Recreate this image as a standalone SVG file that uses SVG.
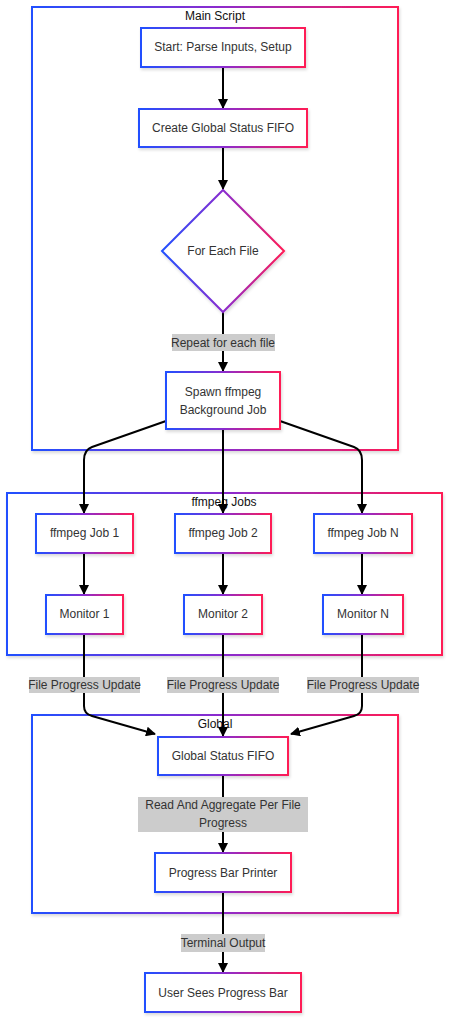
<svg xmlns="http://www.w3.org/2000/svg" width="451" height="1024" viewBox="0 0 451 1024">
<defs>
<linearGradient id="grad" x1="0" y1="0" x2="1" y2="0">
<stop offset="0" stop-color="#2050ff"/>
<stop offset="0.5" stop-color="#8a2ccf"/>
<stop offset="1" stop-color="#ff1a55"/>
</linearGradient>
<filter id="shadow" x="-10%" y="-10%" width="120%" height="130%">
<feDropShadow dx="1" dy="2" stdDeviation="1.5" flood-color="#000" flood-opacity="0.15"/>
</filter>
<marker id="arrow" viewBox="0 0 10 10" refX="9" refY="5" markerWidth="10" markerHeight="10" markerUnits="userSpaceOnUse" orient="auto">
<path d="M0,0 L10,5 L0,10 z" fill="#000"/>
</marker>
<style>
.node { fill: #fff; stroke: url(#grad); stroke-width: 2; filter: url(#shadow); }
.cluster { fill: #fff; stroke: url(#grad); stroke-width: 2; filter: url(#shadow); }
.ntext { font-family: "Liberation Sans", Arial, sans-serif; font-size: 12px; fill: #333; text-anchor: middle; }
.ctitle { font-family: "Liberation Sans", Arial, sans-serif; font-size: 12px; fill: #111; text-anchor: middle; }
.edge { fill: none; stroke: #000; stroke-width: 2; marker-end: url(#arrow); }
.lbg { fill: #cccccc; }
.ltext { font-family: "Liberation Sans", Arial, sans-serif; font-size: 12px; fill: #333; text-anchor: middle; }
</style>
</defs>
<rect width="451" height="1024" fill="#fff"/>

<g id="cluster-main">
<rect class="cluster" x="32" y="7" width="366" height="443"/>
<text class="ctitle" x="215" y="20">Main Script</text>
</g>
<g id="cluster-jobs">
<rect class="cluster" x="7" y="493" width="435" height="162"/>
<text class="ctitle" x="224" y="506">ffmpeg Jobs</text>
</g>
<g id="cluster-global">
<rect class="cluster" x="32" y="715" width="366" height="198"/>
<text class="ctitle" x="215" y="728">Global</text>
</g>

<g id="connectors">
<path class="edge" d="M223,67 L223,108"/>
<path class="edge" d="M223,147 L223,189"/>
<path class="edge" d="M223,312 L223,371"/>
<path class="edge" d="M166,421 L92,447 Q84,450 84,460 L84,513"/>
<path class="edge" d="M223,429 L223,513"/>
<path class="edge" d="M280,421 L354,447 Q362,450 362,460 L362,513"/>
<path class="edge" d="M84,553 L84,594"/>
<path class="edge" d="M223,553 L223,594"/>
<path class="edge" d="M362,553 L362,594"/>
<path class="edge" d="M84,634 L84,706 Q84,714 92,716 L155,734"/>
<path class="edge" d="M223,634 L223,736"/>
<path class="edge" d="M362,634 L362,706 Q362,714 354,716 L291,734"/>
<path class="edge" d="M223,775 L223,852"/>
<path class="edge" d="M223,892 L223,972"/>
</g>

<g id="edge-labels">
<rect class="lbg" x="172" y="334" width="103" height="17"/>
<text class="ltext" x="223" y="347">Repeat for each file</text>
<rect class="lbg" x="29" y="677" width="111" height="16"/>
<text class="ltext" x="84.5" y="689">File Progress Update</text>
<rect class="lbg" x="167" y="677" width="112" height="16"/>
<text class="ltext" x="223" y="689">File Progress Update</text>
<rect class="lbg" x="307" y="677" width="112" height="16"/>
<text class="ltext" x="363" y="689">File Progress Update</text>
<rect class="lbg" x="138" y="797" width="170" height="35"/>
<text class="ltext" x="223" y="809">Read And Aggregate Per File</text>
<text class="ltext" x="223" y="827">Progress</text>
<rect class="lbg" x="181" y="934" width="84" height="18"/>
<text class="ltext" x="223" y="947">Terminal Output</text>
</g>

<g id="node-start">
<rect class="node" x="141" y="28" width="164" height="39"/>
<text class="ntext" x="223" y="51">Start: Parse Inputs, Setup</text>
</g>
<g id="node-create">
<rect class="node" x="139" y="109" width="168" height="38"/>
<text class="ntext" x="223" y="132">Create Global Status FIFO</text>
</g>
<g id="node-foreach">
<polygon class="node" points="223,190 284,251 223,312 162,251"/>
<text class="ntext" x="223" y="255">For Each File</text>
</g>
<g id="node-spawn">
<rect class="node" x="166" y="372" width="114" height="57"/>
<text class="ntext" x="223" y="396">Spawn ffmpeg</text>
<text class="ntext" x="223" y="414">Background Job</text>
</g>
<g id="node-job1">
<rect class="node" x="36" y="514" width="97" height="39"/>
<text class="ntext" x="84.5" y="537">ffmpeg Job 1</text>
</g>
<g id="node-job2">
<rect class="node" x="175" y="514" width="96" height="39"/>
<text class="ntext" x="223" y="537">ffmpeg Job 2</text>
</g>
<g id="node-jobn">
<rect class="node" x="314" y="514" width="98" height="39"/>
<text class="ntext" x="363" y="537">ffmpeg Job N</text>
</g>
<g id="node-mon1">
<rect class="node" x="46" y="595" width="77" height="39"/>
<text class="ntext" x="84.5" y="618">Monitor 1</text>
</g>
<g id="node-mon2">
<rect class="node" x="184" y="595" width="78" height="39"/>
<text class="ntext" x="223" y="618">Monitor 2</text>
</g>
<g id="node-monn">
<rect class="node" x="323" y="595" width="80" height="39"/>
<text class="ntext" x="363" y="618">Monitor N</text>
</g>
<g id="node-gfifo">
<rect class="node" x="158" y="737" width="130" height="38"/>
<text class="ntext" x="223" y="760">Global Status FIFO</text>
</g>
<g id="node-printer">
<rect class="node" x="155" y="853" width="136" height="39"/>
<text class="ntext" x="223" y="877">Progress Bar Printer</text>
</g>
<g id="node-user">
<rect class="node" x="145" y="973" width="156" height="39"/>
<text class="ntext" x="223" y="997">User Sees Progress Bar</text>
</g>
</svg>
